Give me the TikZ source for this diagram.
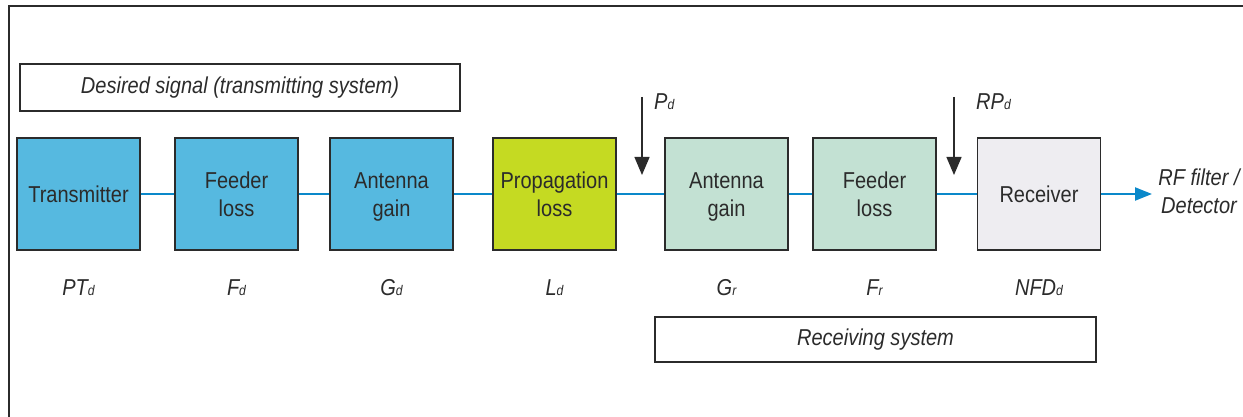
\documentclass[tikz,border=0pt]{standalone}
\usepackage{fontspec}
\setmainfont{Liberation Sans}[FakeStretch=0.87]
\usetikzlibrary{arrows.meta}
\definecolor{txblue}{HTML}{56B9E0}
\definecolor{propgreen}{HTML}{C5DA22}
\definecolor{rxgreen}{HTML}{C3E1D3}
\definecolor{rxgrey}{HTML}{EEEDF1}
\definecolor{lineblue}{HTML}{0A88CA}
\definecolor{edge}{HTML}{2B2B2B}
\newcommand{\sbs}[1]{{\fontsize{14}{14}\selectfont #1}}
\newcommand{\tstr}{\rule{0pt}{25.6pt}}
\begin{document}
\begin{tikzpicture}[x=1pt,y=-1pt,
  every node/.style={font=\fontsize{23}{28}\selectfont, text=edge},
  blk/.style={draw=edge, line width=1.1pt, minimum width=123pt, minimum height=112pt, inner sep=0pt, align=center},
  capbox/.style={draw=edge, line width=1.1pt, inner sep=0pt, font=\fontsize{23}{28}\selectfont\itshape},
  conn/.style={draw=lineblue, line width=2.2pt},
  probe/.style={draw=edge, line width=1.3pt, -{Triangle[length=18pt,width=15pt]}},
  lbl/.style={font=\fontsize{23}{28}\selectfont\itshape, inner sep=0pt}
]
\useasboundingbox (0,0) rectangle (1243,417);
\draw[edge, line width=1.5pt] (1243,6) -- (9,6) -- (9,417);

% caption boxes
\node[capbox, minimum width=440pt, minimum height=47pt] (des) at (240,87.5) {Desired signal (transmitting system)};
\node[capbox, minimum width=441pt, minimum height=45pt] (recsys) at (875.5,339.5) {Receiving system};

% blocks
\node[blk, fill=txblue] (tx) at (78.5,194) {\tstr\strut Transmitter};
\node[blk, fill=txblue] (ftx) at (236.5,194) {\tstr Feeder\\\strut loss};
\node[blk, fill=txblue] (gtx) at (391.5,194) {\tstr Antenna\\\strut gain};
\node[blk, fill=propgreen] (prop) at (554.5,194) {\tstr Propagation\\\strut loss};
\node[blk, fill=rxgreen] (grx) at (726.5,194) {\tstr Antenna\\\strut gain};
\node[blk, fill=rxgreen] (frx) at (874.5,194) {\tstr Feeder\\\strut loss};
\node[blk, fill=rxgrey] (rx) at (1039,194) {\tstr\strut Receiver};

% connectors
\draw[conn] (tx) -- (ftx);
\draw[conn] (ftx) -- (gtx);
\draw[conn] (gtx) -- (prop);
\draw[conn] (prop) -- (grx);
\draw[conn] (grx) -- (frx);
\draw[conn] (frx) -- (rx);
\coordinate (out) at (1152,194);
\draw[conn, -{Triangle[length=17pt,width=13pt]}] (rx) -- (out);
\node[lbl, align=center] (det) at (1199,191) {RF filter /\\Detector};

% probe arrows
\coordinate (pdtop) at (642,97);
\coordinate (pdtip) at (642,175);
\draw[probe] (pdtop) -- (pdtip);
\node[lbl, anchor=west] (pd) at (654,102) {P\sbs{d}};
\coordinate (rptop) at (954,97);
\coordinate (rptip) at (954,175);
\draw[probe] (rptop) -- (rptip);
\node[lbl, anchor=west] (rpd) at (976,102) {RP\sbs{d}};

% parameter labels
\node[lbl] (l1) at (78.5,288) {PT\sbs{d}};
\node[lbl] (l2) at (236.5,288) {F\sbs{d}};
\node[lbl] (l3) at (391.5,288) {G\sbs{d}};
\node[lbl] (l4) at (554.5,288) {L\sbs{d}};
\node[lbl] (l5) at (726.5,288) {G\sbs{r}};
\node[lbl] (l6) at (874.5,288) {F\sbs{r}};
\node[lbl] (l7) at (1039,288) {NFD\sbs{d}};
\end{tikzpicture}
\end{document}
